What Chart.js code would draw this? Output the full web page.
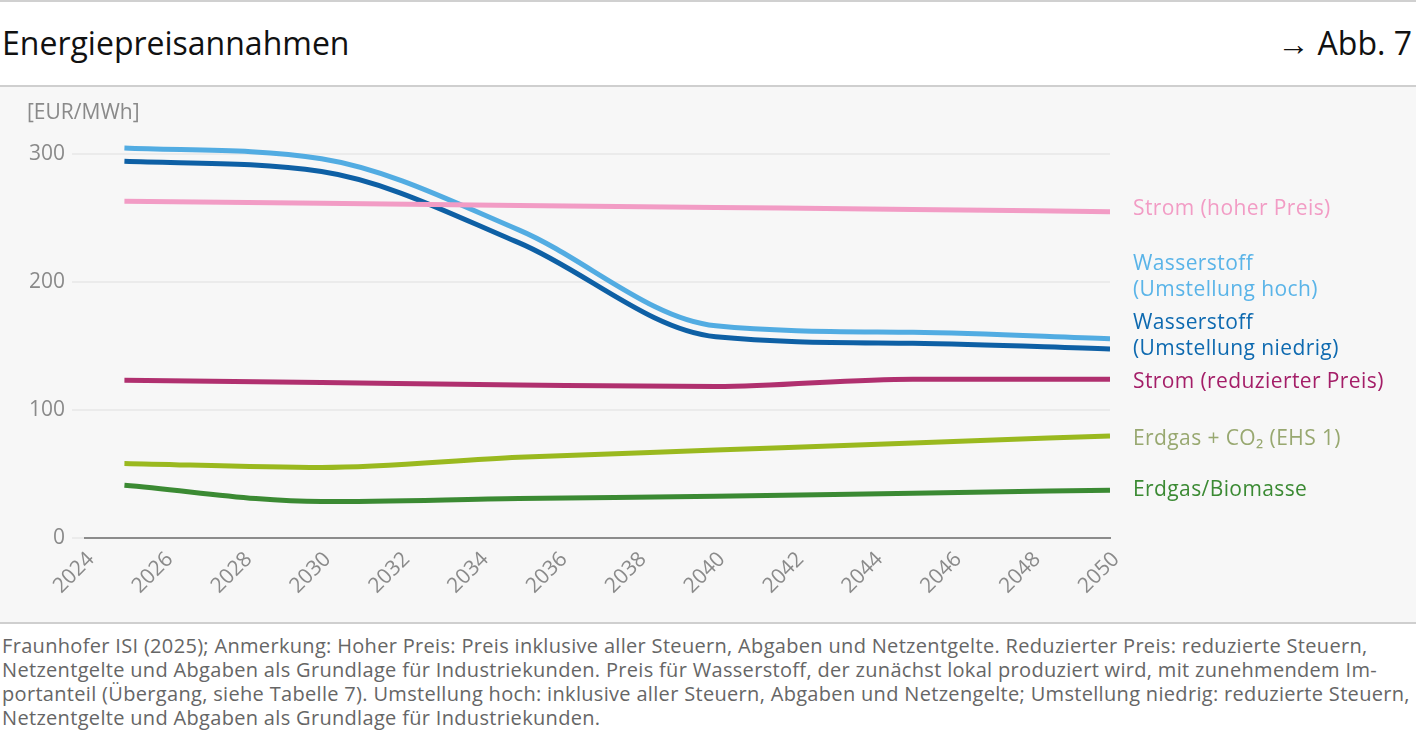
<!DOCTYPE html>
<html lang="de">
<head>
<meta charset="utf-8">
<script src="https://cdn.jsdelivr.net/npm/chart.js@4/dist/chart.umd.min.js"></script>
<style>
	html, body { margin: 0; padding: 0; background: #fff; }
	body { width: 1416px; height: 747px; position: relative; overflow: hidden; font-family: "Open Sans", Roboto, sans-serif; }
	#top-rule { position: absolute; left: 0; top: 0; width: 1416px; height: 2px; background: #d0d0d0; }
	#title { position: absolute; left: 2px; top: 23px; font-size: 32px; color: #111; line-height: 40px; }
	#ref { position: absolute; right: 4px; top: 23px; font-size: 32px; color: #111; line-height: 40px; }
	#chart-box { position: absolute; left: 0; top: 85px; width: 1416px; height: 535px; background: #f7f7f7; border-top: 2px solid #cfcfcf; border-bottom: 2px solid #cfcfcf; }
	#chart-wrap { position: absolute; left: 0; top: 0; width: 1416px; height: 534px; }
	#unit { position: absolute; left: 27px; top: 10px; font-size: 21px; color: #8a8a8a; }
	#source { position: absolute; left: 2px; top: 634px; font-size: 20px; line-height: 24px; color: #666; letter-spacing: 0.32px; white-space: nowrap; }
</style>
</head>
<body>
<div id="top-rule"></div>
<div id="title">Energiepreisannahmen</div>
<div id="ref">→ Abb. 7</div>
<div id="chart-box">
	<div id="chart-wrap"><canvas id="energy-chart"></canvas></div>
	<div id="unit">[EUR/MWh]</div>
</div>
<div id="source">Fraunhofer ISI (2025); Anmerkung: Hoher Preis: Preis inklusive aller Steuern, Abgaben und Netzentgelte. Reduzierter Preis: reduzierte Steuern,<br>Netzentgelte und Abgaben als Grundlage für Industriekunden. Preis für Wasserstoff, der zunächst lokal produziert wird, mit zunehmendem Im-<br>portanteil (Übergang, siehe Tabelle 7). Umstellung hoch: inklusive aller Steuern, Abgaben und Netzengelte; Umstellung niedrig: reduzierte Steuern,<br>Netzentgelte und Abgaben als Grundlage für Industriekunden.</div>
<script>
// years with values
var years = [2025, 2030, 2035, 2040, 2045, 2050];

var stromHoch        = [262.8, 261.2, 259.6, 258.0, 256.4, 254.7];
var wasserstoffHoch  = [304.4, 296.0, 240.5, 165.6, 160.5, 155.5];
var wasserstoffNied  = [294.0, 286.0, 230.5, 157.0, 152.0, 147.5];
var stromReduziert   = [123.2, 121.4, 119.5, 118.2, 124.0, 124.0];
var erdgasCO2        = [58.2, 55.0, 63.0, 68.6, 74.2, 79.7];
var erdgasBiomasse   = [41.2, 28.4, 30.8, 32.5, 35.0, 37.3];

var yTicks = [0, 100, 200, 300];
var xTickStart = 2024, xTickEnd = 2050, xTickStep = 2;

var seriesNames = [
	['Strom (hoher Preis)'],
	['Wasserstoff', '(Umstellung hoch)'],
	['Wasserstoff', '(Umstellung niedrig)'],
	['Strom (reduzierter Preis)'],
	['Erdgas + CO₂ (EHS 1)'],
	['Erdgas/Biomasse']
];

function points(values) {
	return years.map(function (y, i) { return { x: y, y: values[i] }; });
}

function makeSet(values, color) {
	return {
		data: points(values),
		borderColor: color,
		borderWidth: 5,
		pointRadius: 0,
		fill: false,
		cubicInterpolationMode: 'monotone'
	};
}

// labels at the right end of each line
var endLabels = {
	id: 'endLabels',
	afterDatasetsDraw: function (chart, args, opts) {
		var ctx = chart.ctx;
		ctx.save();
		ctx.font = opts.font;
		ctx.letterSpacing = opts.letterSpacing;
		ctx.textBaseline = 'middle';
		ctx.textAlign = 'left';
		chart.data.datasets.forEach(function (ds, i) {
			var meta = chart.getDatasetMeta(i);
			var last = meta.data[meta.data.length - 1];
			var y = last.y + opts.offsets[i];
			ctx.fillStyle = opts.colors[i];
			seriesNames[i].forEach(function (line, j) {
				ctx.fillText(line, chart.chartArea.right + 23, y + j * opts.lineHeight);
			});
		});
		ctx.restore();
	}
};

var ctx = document.getElementById('energy-chart').getContext('2d');
var energyChart = new Chart(ctx, {
	type: 'line',
	data: {
		datasets: [
			makeSet(stromHoch, '#f29cc5'),
			makeSet(wasserstoffHoch, '#52ace2'),
			makeSet(wasserstoffNied, '#0e60a5'),
			makeSet(stromReduziert, '#b0306f'),
			makeSet(erdgasCO2, '#9ab91f'),
			makeSet(erdgasBiomasse, '#3b8a33')
		]
	},
	options: {
		responsive: true,
		maintainAspectRatio: false,
		animation: false,
		layout: { padding: { top: 41, right: 306, left: 0, bottom: 0 } },
		plugins: {
			legend: { display: false },
			tooltip: { enabled: false },
			endLabels: {
				font: '21px "Open Sans", Roboto, sans-serif',
				letterSpacing: '0.4px',
				lineHeight: 26,
				offsets: [-3, -75, -26, 3, 3, 0],
				colors: ['#f29cc5', '#5ab4e8', '#0e6ab0', '#a41e68', '#98a870', '#3b8a33']
			}
		},
		scales: {
			x: {
				type: 'linear',
				min: xTickStart,
				max: xTickEnd,
				afterFit: function (s) { s.height = 83; },
				afterBuildTicks: function (s) {
					var t = [];
					for (var v = xTickStart; v <= xTickEnd; v += xTickStep) t.push({ value: v });
					s.ticks = t;
				},
				grid: { display: false, drawTicks: false },
				border: { display: true, color: '#8c8c8c', width: 2 },
				ticks: {
					autoSkip: false,
					maxRotation: 45,
					minRotation: 45,
					padding: 9,
					labelOffset: 6,
					color: '#8a8a8a',
					font: { family: 'Open Sans', size: 21 },
					callback: function (v) { return String(v); }
				}
			},
			y: {
				min: 0,
				max: 320,
				afterFit: function (s) { s.width = 85; },
				afterBuildTicks: function (s) {
					s.ticks = yTicks.map(function (v) { return { value: v }; });
				},
				grid: { color: '#ebebeb', lineWidth: 2, tickLength: 13 },
				border: { display: false },
				ticks: {
					padding: 7,
					color: '#8a8a8a',
					font: { family: 'Open Sans', size: 21 }
				}
			}
		}
	},
	plugins: [endLabels]
});
</script>
</body>
</html>
